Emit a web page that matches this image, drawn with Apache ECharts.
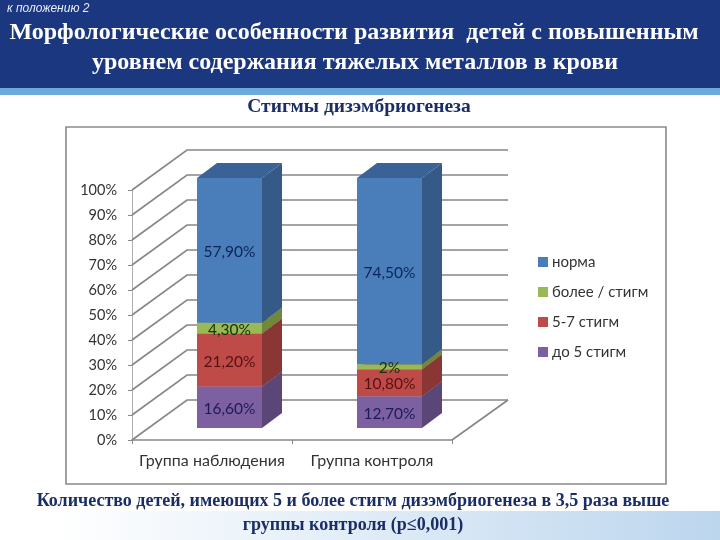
<!DOCTYPE html>
<html><head><meta charset="utf-8">
<style>html,body{margin:0;padding:0;background:#fff}#c{width:720px;height:540px}</style>
<script src="https://cdn.jsdelivr.net/npm/echarts@6/dist/echarts.min.js"></script>
</head><body><div id="c"></div>
<script>
const categories = ['Группа наблюдения', 'Группа контроля'];
const yTicks = [0, 10, 20, 30, 40, 50, 60, 70, 80, 90, 100];
const up5 = [16.6, 12.7];
const s5to7 = [21.2, 10.8];
const more7 = [4.3, 2];
const norm = [57.9, 74.5];
const labelsUp5 = ['16,60%', '12,70%'];
const labels5to7 = ['21,20%', '10,80%'];
const labelsMore7 = ['4,30%', '2%'];
const labelsNorm = ['57,90%', '74,50%'];
const legendNames = ['норма', 'более / стигм', '5-7 стигм', 'до 5 стигм'];

const stacks = [
  {name: 'до 5 стигм', v: up5, l: labelsUp5, front: '#7d60a0', side: '#5a4677', top: '#6a5288', text: '#1c1a5c'},
  {name: '5-7 стигм', v: s5to7, l: labels5to7, front: '#be4b48', side: '#8a3634', top: '#a0403d', text: '#561014'},
  {name: 'более / стигм', v: more7, l: labelsMore7, front: '#98b954', side: '#6f883c', top: '#80a045', text: '#16300c'},
  {name: 'норма', v: norm, l: labelsNorm, front: '#4a7ebb', side: '#355a88', top: '#3a6296', text: '#0c2458'}
];
const bases = [0, 0];
stacks.forEach(s => { s.base = bases.slice(); s.v.forEach((x, i) => bases[i] += x); });

const wallDX = 55, wallDY = -40, wallEnd = 508;
const barOX = 17.5, barOY = -12, barHalf = 32.5, barDX = 20, barDY = -15;
const gridCol = '#868686';

function pts(a) { return {points: a}; }

function wallItem(params, api) {
  const p = api.coord([0, api.value(0)]);
  const y = p[1], x0 = 132;
  const children = [{
    type: 'polyline',
    shape: pts([[x0, y], [x0 + wallDX, y + wallDY], [wallEnd, y + wallDY]]),
    style: {stroke: gridCol, lineWidth: 1.6, fill: null}
  }];
  if (api.value(0) === 0) {
    children.push({type: 'line', shape: {x1: 452, y1: y, x2: wallEnd, y2: y + wallDY},
      style: {stroke: gridCol, lineWidth: 1.6}});
  }
  return {type: 'group', children};
}

function barItem(stack) {
  return function (params, api) {
    const i = api.value(0), b = api.value(1), t = b + api.value(2);
    const pb = api.coord([i, b]), pt = api.coord([i, t]);
    const cx = pb[0] + barOX, l = cx - barHalf, r = cx + barHalf;
    const yb = pb[1] + barOY, yt = pt[1] + barOY;
    return {type: 'group', children: [
      {type: 'polygon', shape: pts([[l, yb], [r, yb], [r, yt], [l, yt]]), style: {fill: stack.front}},
      {type: 'polygon', shape: pts([[r, yb], [r + barDX, yb + barDY], [r + barDX, yt + barDY], [r, yt]]), style: {fill: stack.side}},
      {type: 'polygon', shape: pts([[l, yt], [r, yt], [r + barDX, yt + barDY], [l + barDX, yt + barDY]]), style: {fill: stack.top}}
    ]};
  };
}

function labelItem(stack) {
  return function (params, api) {
    const i = api.value(0), c = api.value(1) + api.value(2) / 2;
    const p = api.coord([i, c]);
    return {type: 'text', z2: 100, style: {
      x: p[0] + barOX, y: p[1] + barOY + 1.5, text: stack.l[i], align: 'center', verticalAlign: 'middle',
      fill: stack.text, font: '15.5px Lato, "Open Sans", sans-serif'
    }};
  };
}

const series = [{
  type: 'custom', name: 'wall', silent: true, z: 1, coordinateSystem: 'cartesian2d',
  data: yTicks.map(v => [v]), encode: {y: 0}, renderItem: wallItem
}];
stacks.forEach((s, k) => {
  const data = s.v.map((x, i) => [i, s.base[i], x]);
  series.push({type: 'custom', name: s.name, z: 3 + k, itemStyle: {color: s.front},
    coordinateSystem: 'cartesian2d', data, encode: {x: 0, y: 1}, renderItem: barItem(s)});
});
stacks.forEach(s => {
  const data = s.v.map((x, i) => [i, s.base[i], x]);
  series.push({type: 'custom', name: s.name + ' подпись', z: 10, silent: true,
    coordinateSystem: 'cartesian2d', data, encode: {x: 0, y: 1}, renderItem: labelItem(s)});
});

const serif = '"Liberation Serif", "DejaVu Serif", serif';
const titleText = (text, x, y, size, fill) => ({
  type: 'text', x, y, style: {text, align: 'center', verticalAlign: 'middle', fill,
    font: 'bold ' + size + 'px ' + serif}
});

const chart = echarts.init(document.getElementById('c'), null, {renderer: 'canvas'});
chart.setOption({
  animation: false,
  backgroundColor: '#ffffff',
  grid: {left: 132, top: 190, width: 320, height: 250, containLabel: false},
  xAxis: {
    type: 'category', data: categories,
    axisLine: {show: true, lineStyle: {color: gridCol, width: 1.6}},
    axisTick: {show: true, alignWithLabel: false, length: 4, lineStyle: {color: gridCol}},
    axisLabel: {color: '#333', fontFamily: 'Lato, "Open Sans", sans-serif', fontSize: 16, margin: 13, interval: 0},
    splitLine: {show: false}
  },
  yAxis: {
    type: 'value', min: 0, max: 100, interval: 10,
    axisLine: {show: true, lineStyle: {color: '#b0b0b0', width: 1}},
    axisTick: {show: true, length: 4, lineStyle: {color: gridCol}},
    axisLabel: {color: '#333', fontFamily: 'Lato, "Open Sans", sans-serif', fontSize: 14.5, margin: 15, formatter: '{value}%'},
    splitLine: {show: false}
  },
  legend: {
    data: legendNames, orient: 'vertical', left: 533, top: 248, itemWidth: 10, itemHeight: 10, itemGap: 12,
    icon: 'rect', textStyle: {color: '#333', fontFamily: 'Lato, "Open Sans", sans-serif', fontSize: 15, lineHeight: 18, padding: [0, 0, 0, -1]}
  },
  graphic: [
    {type: 'rect', z: -10, shape: {x: 0, y: 0, width: 720, height: 88}, style: {fill: '#1a3780'}},
    {type: 'rect', z: -10, shape: {x: 0, y: 88, width: 720, height: 7}, style: {fill: '#6ea9dc'}},
    {type: 'rect', z: -10, shape: {x: 0, y: 511, width: 720, height: 29}, style: {
      fill: new echarts.graphic.LinearGradient(0, 0, 1, 0, [
        {offset: 0, color: '#ffffff'}, {offset: 0.08, color: '#ffffff'}, {offset: 1, color: '#bcd6ee'}])}},
    {type: 'rect', z: -5, shape: {x: 66, y: 127, width: 600, height: 357},
      style: {fill: '#ffffff', stroke: '#8a8a8a', lineWidth: 1.6}},
    {type: 'text', x: 7, y: 9, style: {text: 'к положению 2', align: 'left', verticalAlign: 'middle',
      fill: '#e8eef8', font: 'italic 12px "Liberation Sans", sans-serif'}},
    titleText('Морфологические особенности развития  детей с повышенным', 354, 33, 24, '#ffffff'),
    titleText('уровнем содержания тяжелых металлов в крови', 355, 63, 24, '#ffffff'),
    titleText('Стигмы дизэмбриогенеза', 359, 107, 19.5, '#1a2d66'),
    titleText('Количество детей, имеющих 5 и более стигм дизэмбриогенеза в 3,5 раза выше', 353, 501, 18, '#1a2d66'),
    titleText('группы контроля (р≤0,001)', 353, 525, 18, '#1a2d66')
  ],
  series
});
</script></body></html>
